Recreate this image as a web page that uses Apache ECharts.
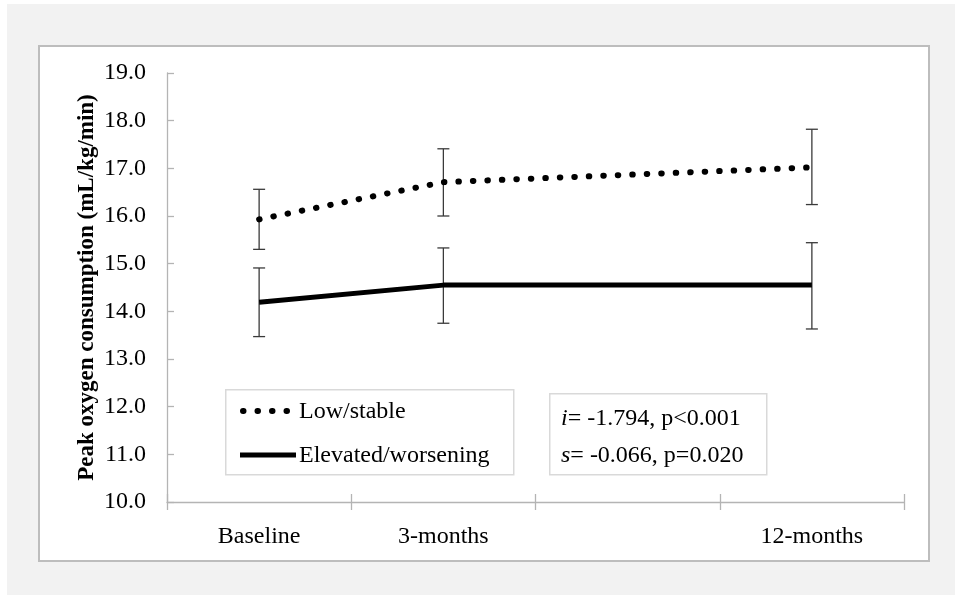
<!DOCTYPE html>
<html>
<head>
<meta charset="utf-8">
<script src="https://cdn.jsdelivr.net/npm/echarts@6/dist/echarts.min.js"></script>
<style>
  html, body { margin: 0; padding: 0; background: #ffffff; }
  #bg { position: absolute; left: 7px; top: 4px; width: 948px; height: 591px; background: #f2f2f2; }
  #panel { position: absolute; left: 38px; top: 45px; width: 888px; height: 513px; background: #ffffff; border: 2px solid #bdbdbd; }
  #chart { position: absolute; left: 0; top: 0; width: 955px; height: 595px; }
</style>
</head>
<body>
<div id="bg"></div>
<div id="panel"></div>
<div id="chart"></div>
<script>
// ---- data ----
const categories = ['Baseline', '3-months', '', '12-months'];
const lowStable = [15.93, 16.71, null, 17.02];
const lowStableErrLow = [15.30, 16.00, null, 16.24];
const lowStableErrHigh = [16.56, 17.41, null, 17.82];
const elevated = [14.19, 14.55, null, 14.55];
const elevatedErrLow = [13.47, 13.75, null, 13.63];
const elevatedErrHigh = [14.91, 15.33, null, 15.44];
const yTicks = { min: 10, max: 19, interval: 1 };
const seriesNames = ['Low/stable', 'Elevated/worsening'];
const yTitle = 'Peak oxygen consumption (mL/kg/min)';
const statsLine1 = ['i', '= -1.794, p<0.001'];
const statsLine2 = ['s', '= -0.066, p=0.020'];

const FONT = '"Liberation Serif", "Times New Roman", serif';
const FS = 24;
const AXIS_COLOR = '#b4b4b4';
const ERR_COLOR = '#3a3a3a';
const DOT_STYLE = { stroke: '#000', lineWidth: 6, lineDash: [0.5, 14], lineCap: 'round' };
const SOLID_STYLE = { stroke: '#000', lineWidth: 5 };

function errData(lo, hi) {
  const out = [];
  lo.forEach((v, i) => { if (v != null && hi[i] != null) out.push([i, v, hi[i]]); });
  return out;
}

function renderErr(params, api) {
  const x = api.value(0);
  const lo = api.coord([x, api.value(1)]);
  const hi = api.coord([x, api.value(2)]);
  const w = 6;
  const style = { stroke: ERR_COLOR, lineWidth: 1.3, fill: null };
  return {
    type: 'group',
    children: [
      { type: 'line', shape: { x1: lo[0], y1: lo[1], x2: hi[0], y2: hi[1] }, style: style },
      { type: 'line', shape: { x1: lo[0] - w, y1: lo[1], x2: lo[0] + w, y2: lo[1] }, style: style },
      { type: 'line', shape: { x1: hi[0] - w, y1: hi[1], x2: hi[0] + w, y2: hi[1] }, style: style }
    ]
  };
}

const chart = echarts.init(document.getElementById('chart'), null, { renderer: 'canvas' });
chart.setOption({
  backgroundColor: 'transparent',
  animation: false,
  textStyle: { fontFamily: FONT, color: '#000' },
  grid: { left: 167, right: 51, top: 73, bottom: 93, containLabel: false },
  xAxis: [
    {
      type: 'category',
      data: categories,
      boundaryGap: true,
      axisLine: { lineStyle: { color: AXIS_COLOR, width: 1.3 } },
      axisTick: { show: true, length: 8, alignWithLabel: false, lineStyle: { color: AXIS_COLOR, width: 1.3 } },
      axisLabel: { fontFamily: FONT, fontSize: FS, color: '#000', margin: 23, interval: 0 },
      splitLine: { show: false }
    },
    {
      type: 'category',
      data: categories,
      position: 'bottom',
      boundaryGap: true,
      axisLine: { show: false },
      axisTick: { show: true, inside: true, length: 8, lineStyle: { color: AXIS_COLOR, width: 1.3 } },
      axisLabel: { show: false },
      splitLine: { show: false }
    }
  ],
  yAxis: {
    type: 'value',
    min: yTicks.min,
    max: yTicks.max,
    interval: yTicks.interval,
    name: yTitle,
    nameLocation: 'middle',
    nameGap: 68,
    nameMoveOverlap: false,
    nameTextStyle: { fontFamily: FONT, fontSize: 23, fontWeight: 'bold', color: '#000' },
    axisLine: { show: true, lineStyle: { color: AXIS_COLOR, width: 1.3 } },
    axisTick: { show: true, inside: true, length: 7, lineStyle: { color: AXIS_COLOR, width: 1.3 } },
    axisLabel: { fontFamily: FONT, fontSize: FS, color: '#000', margin: 21, formatter: v => v.toFixed(1) },
    splitLine: { show: false }
  },
  graphic: [
    // legend box
    {
      type: 'rect', left: 225, top: 389, z: 50,
      shape: { width: 288, height: 85 },
      style: { fill: '#fff', stroke: '#d9d9d9', lineWidth: 1.5 }
    },
    {
      type: 'line', z: 51,
      shape: { x1: 243, y1: 411, x2: 290, y2: 411 },
      style: DOT_STYLE
    },
    {
      type: 'text', left: 299, top: 400, z: 51,
      style: { text: seriesNames[0], fontFamily: FONT, fontSize: FS, fill: '#000' }
    },
    {
      type: 'line', z: 51,
      shape: { x1: 240, y1: 455, x2: 296, y2: 455 },
      style: SOLID_STYLE
    },
    {
      type: 'text', left: 299, top: 444, z: 51,
      style: { text: seriesNames[1], fontFamily: FONT, fontSize: FS, fill: '#000' }
    },
    // stats box
    {
      type: 'rect', left: 549, top: 393, z: 50,
      shape: { width: 217, height: 81 },
      style: { fill: '#fff', stroke: '#d9d9d9', lineWidth: 1.5 }
    },
    {
      type: 'text', left: 561, top: 407, z: 51,
      style: {
        text: '{it|' + statsLine1[0] + '}{n|' + statsLine1[1] + '}\n{it|' + statsLine2[0] + '}{n|' + statsLine2[1] + '}',
        rich: {
          it: { fontFamily: FONT, fontSize: FS, fontStyle: 'italic', fill: '#000', lineHeight: 37 },
          n: { fontFamily: FONT, fontSize: FS, fill: '#000', lineHeight: 37 }
        }
      }
    }
  ],
  series: [
    {
      name: seriesNames[0],
      type: 'line',
      data: lowStable,
      connectNulls: true,
      symbol: 'none',
      showSymbol: false,
      color: '#000',
      lineStyle: { color: '#000', width: 6, type: [0.5, 14], cap: 'round' },
      z: 5
    },
    {
      name: seriesNames[1],
      type: 'line',
      data: elevated,
      connectNulls: true,
      symbol: 'none',
      showSymbol: false,
      color: '#000',
      lineStyle: { color: '#000', width: 5, type: 'solid' },
      z: 5
    },
    {
      name: 'errLow',
      type: 'custom',
      renderItem: renderErr,
      data: errData(lowStableErrLow, lowStableErrHigh),
      encode: { x: 0, y: [1, 2] },
      z: 4,
      silent: true
    },
    {
      name: 'errElev',
      type: 'custom',
      renderItem: renderErr,
      data: errData(elevatedErrLow, elevatedErrHigh),
      encode: { x: 0, y: [1, 2] },
      z: 4,
      silent: true
    }
  ]
});
</script>
</body>
</html>
